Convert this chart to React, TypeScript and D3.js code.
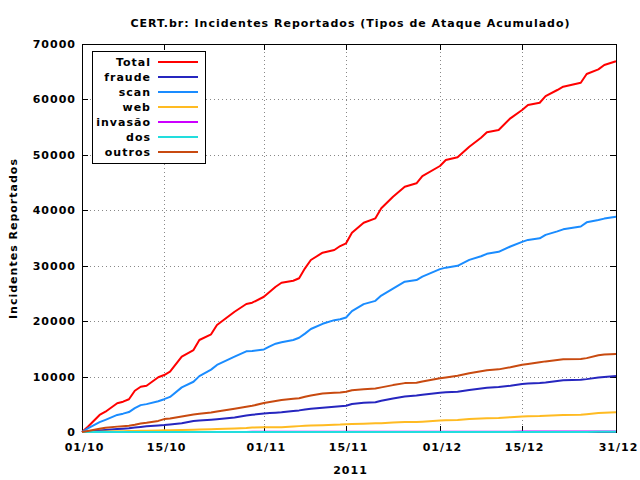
import React from "react";
import * as d3 from "d3";

const dayOffsets = [0,1,3,4,6,7,8,9,10,11,13,14,15,17,19,20,22,23,26,28,29,31,32,33,34,36,37,38,39,41,43,44,45,46,48,50,51,53,55,57,58,61,62,64,66,68,69,71,73,75,76,78,79,81,82,85,86,88,89,91];

const totalValues = [0,950,3070,3660,5180,5470,5900,7450,8170,8350,9870,10280,10880,13580,14790,16600,17620,19300,21700,23090,23330,24400,25300,26210,26930,27290,27730,29530,31030,32350,32830,33550,34040,35950,37760,38550,40360,42450,44250,44870,46180,47990,49070,49560,51470,53090,54070,54480,56590,58090,58990,59400,60610,61700,62290,63010,64580,65430,66210,66900];
const fraudeValues = [0,90,280,380,530,590,660,800,910,1040,1190,1250,1360,1570,1980,2060,2200,2290,2610,2960,3100,3340,3420,3480,3550,3780,3900,4060,4190,4390,4560,4640,4740,5040,5260,5380,5620,6060,6420,6600,6740,7090,7150,7270,7580,7850,7970,8110,8360,8670,8730,8860,8950,9200,9330,9420,9540,9830,9940,10100];
const scanValues = [0,650,1780,2200,3080,3310,3600,4300,4850,5030,5550,5920,6330,8050,9070,10080,11250,12100,13600,14560,14610,14900,15450,15930,16200,16600,17000,17750,18580,19520,20180,20330,20660,21800,23070,23660,24620,25880,27110,27420,28020,29380,29650,29990,31050,31700,32150,32500,33470,34300,34660,34940,35560,36200,36560,37080,37830,38240,38500,38840];
const webValues = [0,20,60,90,130,150,170,190,220,240,280,300,320,370,420,440,500,530,630,720,790,850,850,850,860,990,1060,1140,1170,1230,1300,1340,1410,1460,1500,1560,1600,1710,1790,1790,1840,2060,2100,2170,2340,2440,2470,2530,2680,2790,2830,2880,2950,3030,3070,3120,3220,3420,3470,3550];
const invasaoValues = [0,1,2,3,4,4,5,6,8,8,9,10,11,12,14,15,16,17,21,22,23,25,26,27,28,30,31,33,33,35,37,38,39,41,42,44,45,47,49,51,52,55,56,58,60,62,63,65,67,69,70,72,73,75,76,79,80,82,83,85];
const dosValues = [0,0,0,1,1,1,1,2,2,2,2,3,3,3,4,4,4,5,5,6,6,6,7,7,7,8,8,8,9,9,10,10,10,11,11,12,12,13,13,13,14,15,15,15,16,17,17,18,18,19,19,20,20,21,21,22,22,23,23,24];
const outrosValues = [0,190,570,760,970,1050,1130,1310,1530,1660,2000,2330,2450,2810,3160,3280,3500,3700,4200,4540,4720,5230,5430,5600,5770,5980,6100,6350,6570,6960,7080,7120,7250,7520,7700,7850,8050,8460,8820,8890,9100,9690,9840,10150,10600,10960,11150,11300,11690,12150,12280,12580,12740,12990,13120,13170,13330,13850,13970,14070];

const seriesNames = ["Total", "fraude", "scan", "web", "invasão", "dos", "outros"];
const seriesColors = ["#ff0000", "#2626bf", "#1a8cff", "#ffbb22", "#cc00ff", "#22dddd", "#c84a10"];
const seriesData = [totalValues, fraudeValues, scanValues, webValues, invasaoValues, dosValues, outrosValues];

const xTickDates = ["2011-10-01", "2011-10-15", "2011-11-01", "2011-11-15", "2011-12-01", "2011-12-15", "2011-12-31"];
const yTickValues = [0, 10000, 20000, 30000, 40000, 50000, 60000, 70000];

const titleText = "CERT.br: Incidentes Reportados (Tipos de Ataque Acumulado)";
const xAxisLabel = "2011";
const yAxisLabel = "Incidentes Reportados";

const W = 640, H = 480;
const M = { left: 82, right: 616, top: 44, bottom: 432 };
const FONT = "'DejaVu Sans', sans-serif";
const LS = 1.0;

const parse = d3.timeParse("%Y-%m-%d");
const startDate = parse("2011-10-01") as Date;

export default function App() {
  const x = d3.scaleTime()
    .domain([startDate, parse("2011-12-31") as Date])
    .range([M.left, M.right]);
  const y = d3.scaleLinear().domain([0, 70000]).range([M.bottom, M.top]);
  const dates = dayOffsets.map((d) => d3.timeDay.offset(startDate, d));
  const line = d3.line<number>()
    .x((_, i) => x(dates[i]))
    .y((v) => y(v));
  const fmt = d3.timeFormat("%d/%m");
  const xTicks = xTickDates.map((s) => parse(s) as Date);
  const textStyle: React.CSSProperties = { fontFamily: FONT, fontWeight: "bold", fontSize: 11, letterSpacing: `${LS}px` };

  const legendRows = seriesNames.map((n, i) => ({ n, c: seriesColors[i], yy: 62 + i * 15 }));

  return (
    <svg width={W} height={H} style={{ position: "absolute", left: 0, top: 0, background: "#fff" }}>
      <rect x={0} y={0} width={W} height={H} fill="#fff" />
      {yTickValues.filter((v) => v > 0 && v < 70000).map((v) => (
        <line key={"gy" + v} x1={M.left} x2={M.right} y1={Math.round(y(v)) + 0.5} y2={Math.round(y(v)) + 0.5} stroke="#888" strokeWidth={1} strokeDasharray="1,3" />
      ))}
      {xTicks.slice(1, -1).map((d, i) => (
        <line key={"gx" + i} x1={Math.round(x(d)) + 0.5} x2={Math.round(x(d)) + 0.5} y1={M.top} y2={M.bottom} stroke="#888" strokeWidth={1} strokeDasharray="1,3" />
      ))}
      {yTickValues.map((v) => (
        <g key={"ty" + v}>
          <line x1={M.left} x2={M.left + 6} y1={Math.round(y(v)) + 0.5} y2={Math.round(y(v)) + 0.5} stroke="#000" />
          <line x1={M.right - 6} x2={M.right} y1={Math.round(y(v)) + 0.5} y2={Math.round(y(v)) + 0.5} stroke="#000" />
          <text x={75 + LS} y={y(v) + 4} textAnchor="end" style={textStyle}>{v}</text>
        </g>
      ))}
      {xTicks.map((d, i) => (
        <g key={"tx" + i}>
          <line x1={Math.round(x(d)) + 0.5} x2={Math.round(x(d)) + 0.5} y1={M.bottom} y2={M.bottom - 6} stroke="#000" />
          <line x1={Math.round(x(d)) + 0.5} x2={Math.round(x(d)) + 0.5} y1={M.top} y2={M.top + 6} stroke="#000" />
          <text x={x(d) + 2 + LS / 2} y={451} textAnchor="middle" style={textStyle}>{fmt(d)}</text>
        </g>
      ))}
      <rect x={M.left + 0.5} y={M.top + 0.5} width={M.right - M.left} height={M.bottom - M.top} fill="none" stroke="#000" strokeWidth={1} />
      {seriesData.map((vals, i) => (
        <path key={"s" + i} d={line(vals) || ""} fill="none" stroke={seriesColors[i]} strokeWidth={2} strokeLinejoin="round" />
      ))}
      <rect x={92.5} y={51.5} width={113} height={112} fill="#fff" stroke="#000" strokeWidth={1} />
      {legendRows.map((r) => (
        <g key={"lg" + r.n}>
          <text x={150 + LS} y={r.yy + 4} textAnchor="end" style={textStyle}>{r.n}</text>
          <line x1={158} x2={198} y1={r.yy} y2={r.yy} stroke={r.c} strokeWidth={2} />
        </g>
      ))}
      <text x={350 + LS / 2} y={27} textAnchor="middle" style={textStyle}>{titleText}</text>
      <text x={350 + LS / 2} y={474} textAnchor="middle" style={textStyle}>{xAxisLabel}</text>
      <text transform={`translate(17,${238 + LS / 2}) rotate(-90)`} textAnchor="middle" style={textStyle}>{yAxisLabel}</text>
    </svg>
  );
}
